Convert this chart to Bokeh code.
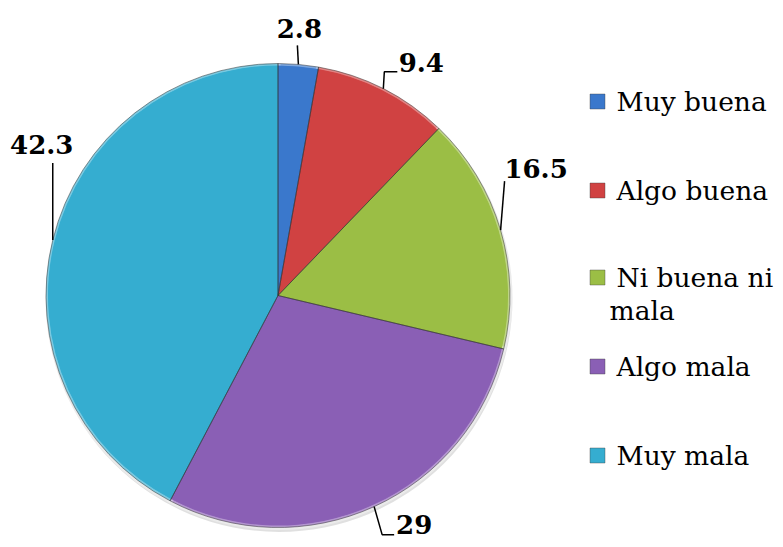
import numpy as np
from bokeh.plotting import figure
from bokeh.models import Range1d, ColumnDataSource
from bokeh.core.properties import value
from bokeh.embed import file_html
from bokeh.resources import INLINE

# ---- data ----
categories = ["Muy buena", "Algo buena", "Ni buena ni mala", "Algo mala", "Muy mala"]
values = [2.8, 9.4, 16.5, 29, 42.3]
value_labels = ["2.8", "9.4", "16.5", "29", "42.3"]
legend_lines = [["Muy buena"], ["Algo buena"], ["Ni buena ni", "mala"], ["Algo mala"], ["Muy mala"]]
colors = ["#3A78CC", "#D04242", "#9BBE45", "#8A5FB5", "#35ADD0"]

# ---- layout (pixel coordinates; data y = -pixel y) ----
W, H = 775, 539
CX, CY, R = 277.5, 295.0, 232.0
FONT = "DejaVu Serif"

p = figure(width=W, height=H, output_backend="svg", toolbar_location=None,
           x_range=Range1d(0, W), y_range=Range1d(-H, 0), min_border=0)
p.axis.visible = False
p.grid.visible = False
p.outline_line_color = None
p.background_fill_color = "white"
p.border_fill_color = "white"

vals = np.array(values, dtype=float)
frac = vals / vals.sum()
cum = np.concatenate([[0], np.cumsum(frac)])
start = np.pi / 2 - 2 * np.pi * cum[:-1]
end = np.pi / 2 - 2 * np.pi * cum[1:]
mid = (start + end) / 2

# soft shadow
p.circle(x=[CX + 1], y=[-(CY + 3)], radius=R + 1.5, fill_color="#000000", fill_alpha=0.12, line_color=None)

src = ColumnDataSource(dict(start=start, end=end, color=colors, cat=categories))
# bevel highlight then body
p.wedge(x=CX, y=-CY, radius=R, start_angle="start", end_angle="end", direction="clock",
        fill_color="color", line_color="white", line_alpha=0.35, line_width=5, source=src)
p.wedge(x=CX, y=-CY, radius=R - 2, start_angle="start", end_angle="end", direction="clock",
        fill_color="color", line_color=None, source=src)
p.wedge(x=CX, y=-CY, radius=R, start_angle="start", end_angle="end", direction="clock",
        fill_color=None, line_color="#303030", line_alpha=0.5, line_width=1, source=src)

# ---- data labels with leader lines ----
ax = CX + R * np.cos(mid)
ay = -CY + R * np.sin(mid)
leader_offsets = [
    [(0, 0), (-1, -19)],
    [(0, 0), (1, -17), (14, -17)],
    [(0, 0), (4, -49)],
    [(0, 0), (8, 28), (20, 28)],
    [(0, 0), (0, -77)],
]
text_offsets = [(1, -36), (38, -26), (35.5, -61.5), (40, 18), (-11, -95)]

xs, ys = [], []
for i in range(len(values)):
    xs.append([ax[i] + dx for dx, dy in leader_offsets[i]])
    ys.append([ay[i] - dy for dx, dy in leader_offsets[i]])
p.multi_line(xs=xs, ys=ys, line_color="black", line_width=1.5)

tx = [ax[i] + text_offsets[i][0] for i in range(len(values))]
ty = [ay[i] - text_offsets[i][1] for i in range(len(values))]
p.text(x=tx, y=ty, text=value_labels, text_font=value(FONT), text_font_style="bold",
       text_font_size="26px", text_align="center", text_baseline="middle", text_color="black")

# ---- legend ----
leg_y = [101, 190, 277, 366, 455]
p.scatter(x=[597] * len(categories), y=[-v for v in leg_y], marker="square", size=15,
          fill_color=colors, line_color="#444444", line_alpha=0.4)
lx, ly, lt = [], [], []
for i, lines in enumerate(legend_lines):
    for j, t in enumerate(lines):
        lx.append(616 if j == 0 else 609)
        ly.append(-(leg_y[i] + 33 * j))
        lt.append(t)
p.text(x=lx, y=ly, text=lt, text_font=value(FONT), text_font_size="26.5px",
       text_align="left", text_baseline="middle", text_color="black")

open("out.html", "w").write(file_html(p, INLINE))
